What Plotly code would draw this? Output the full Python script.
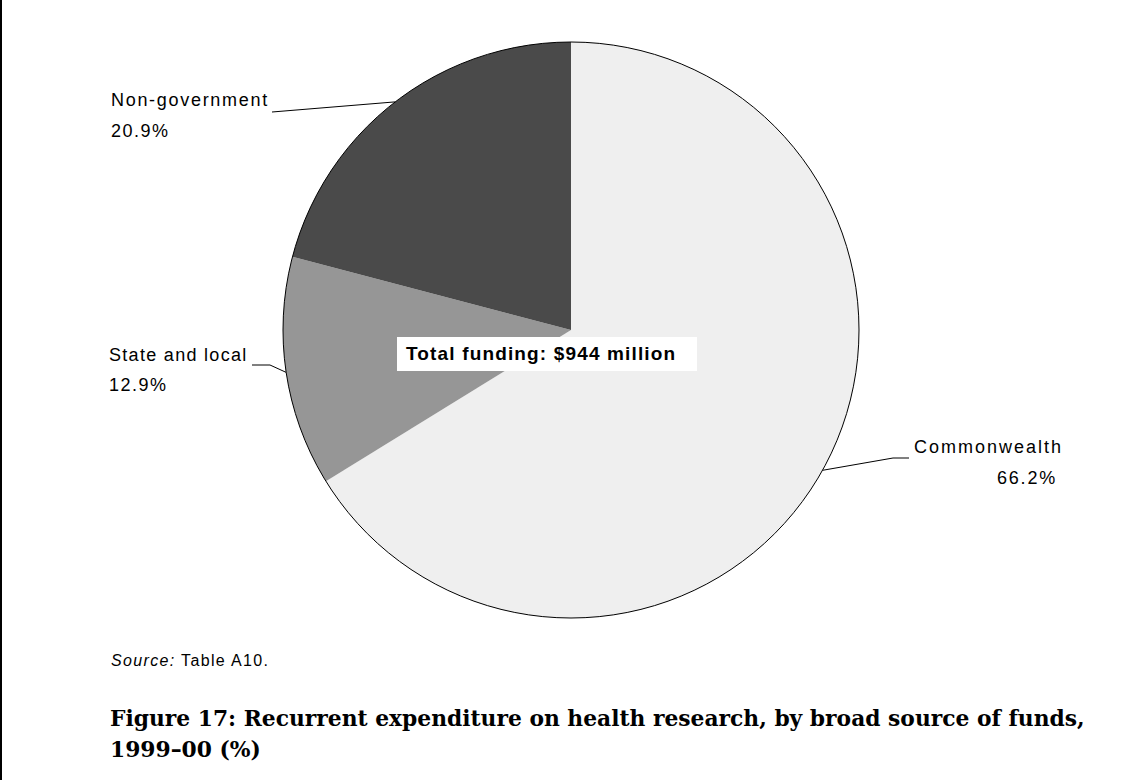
import math
import plotly.graph_objects as go

# Funding shares, 1999-00 (%), clockwise from 12 o'clock
sources = ["Commonwealth", "State and local", "Non-government"]
shares = [66.2, 12.9, 20.9]
slice_colors = ["#efefef", "#969696", "#4a4a4a"]
total_label = "Total funding: $944 million"

W, H = 1137, 780
CX, CY, R = 571, 330, 288  # pie centre and radius in pixels


def px(x):
    return x / W


def py(y):
    return 1 - y / H


fig = go.Figure()
fig.add_trace(go.Pie(
    labels=sources,
    values=shares,
    sort=False,
    direction="clockwise",
    rotation=0,
    marker=dict(colors=slice_colors, line=dict(width=0)),
    textinfo="none",
    hoverinfo="label+percent",
    showlegend=False,
    domain=dict(x=[px(CX - R), px(CX + R)], y=[py(CY + R), py(CY - R)]),
))

shapes = []
annotations = []

# outer rim of the pie
shapes.append(dict(type="circle", xref="paper", yref="paper",
                   x0=px(CX - R), x1=px(CX + R), y0=py(CY + R), y1=py(CY - R),
                   line=dict(color="black", width=1), fillcolor="rgba(0,0,0,0)",
                   layer="above"))

# leader lines: end on the rim at the slice mid-angle
total = sum(shares)
cum = 0
mid_pts = []
for v in shares:
    a = math.radians((cum + v / 2) / total * 360)
    mid_pts.append((CX + R * math.sin(a), CY - R * math.cos(a)))
    cum += v

label_font = dict(family="Liberation Sans, Arial", size=18, color="black")


def spaced(t, s=1.5):
    return f'<span style="letter-spacing:{s}px">' + t + '</span>'


# Commonwealth (right side)
ex, ey = mid_pts[0]
shapes.append(dict(type="path", xref="paper", yref="paper",
                   path=f"M {px(ex)} {py(ey)} L {px(893)} {py(458)} L {px(909)} {py(458)}",
                   line=dict(color="black", width=1)))
annotations.append(dict(x=px(912), y=py(447), xref="paper", yref="paper", text=spaced(sources[0], 2.0),
                        xanchor="left", yanchor="middle", showarrow=False, font=label_font))
annotations.append(dict(x=px(1059), y=py(478), xref="paper", yref="paper", text=spaced(f"{shares[0]}%", 1.8),
                        xanchor="right", yanchor="middle", showarrow=False, font=label_font))

# State and local (left side)
ex, ey = mid_pts[1]
shapes.append(dict(type="path", xref="paper", yref="paper",
                   path=f"M {px(252)} {py(365)} L {px(270)} {py(365)} L {px(ex)} {py(ey)}",
                   line=dict(color="black", width=1)))
annotations.append(dict(x=px(107), y=py(355), xref="paper", yref="paper", text=spaced(sources[1], 1.3),
                        xanchor="left", yanchor="middle", showarrow=False, font=label_font))
annotations.append(dict(x=px(107), y=py(385), xref="paper", yref="paper", text=spaced(f"{shares[1]}%", 1.5),
                        xanchor="left", yanchor="middle", showarrow=False, font=label_font))

# Non-government (upper left)
ex, ey = mid_pts[2]
shapes.append(dict(type="path", xref="paper", yref="paper",
                   path=f"M {px(272)} {py(112)} L {px(ex)} {py(ey)}",
                   line=dict(color="black", width=1)))
annotations.append(dict(x=px(109), y=py(100), xref="paper", yref="paper", text=spaced(sources[2], 1.7),
                        xanchor="left", yanchor="middle", showarrow=False, font=label_font))
annotations.append(dict(x=px(109), y=py(131), xref="paper", yref="paper", text=spaced(f"{shares[2]}%", 1.5),
                        xanchor="left", yanchor="middle", showarrow=False, font=label_font))

# total funding box
shapes.append(dict(type="rect", xref="paper", yref="paper",
                   x0=px(397), x1=px(697), y0=py(371), y1=py(337),
                   fillcolor="white", line=dict(width=0), layer="above"))
annotations.append(dict(x=px(404), y=py(354), xref="paper", yref="paper",
                        text="<b>" + spaced(total_label, 1.15) + "</b>",
                        xanchor="left", yanchor="middle", showarrow=False,
                        font=dict(family="Liberation Sans, Arial", size=19, color="black")))

# source note
annotations.append(dict(x=px(109), y=py(660), xref="paper", yref="paper",
                        text=spaced("<i>Source:</i> Table A10.", 1.35),
                        xanchor="left", yanchor="middle", showarrow=False,
                        font=dict(family="Liberation Sans, Arial", size=16, color="black")))

# figure caption
title_font = dict(family="DejaVu Serif, Georgia, serif", size=21.8, color="black")
annotations.append(dict(x=px(108), y=py(718), xref="paper", yref="paper",
                        text="<b>Figure 17: Recurrent expenditure on health research, by broad source of funds,</b>",
                        xanchor="left", yanchor="middle", showarrow=False, font=title_font))
annotations.append(dict(x=px(108), y=py(749), xref="paper", yref="paper",
                        text="<b>1999–00 (%)</b>",
                        xanchor="left", yanchor="middle", showarrow=False, font=title_font))

# page edge rule
shapes.append(dict(type="line", xref="paper", yref="paper", x0=px(1), x1=px(1), y0=0, y1=1,
                   line=dict(color="black", width=2)))

fig.update_layout(
    width=W, height=H, autosize=False,
    margin=dict(l=0, r=0, t=0, b=0),
    paper_bgcolor="white", plot_bgcolor="white",
    shapes=shapes, annotations=annotations,
)

fig.write_html("out.html")
